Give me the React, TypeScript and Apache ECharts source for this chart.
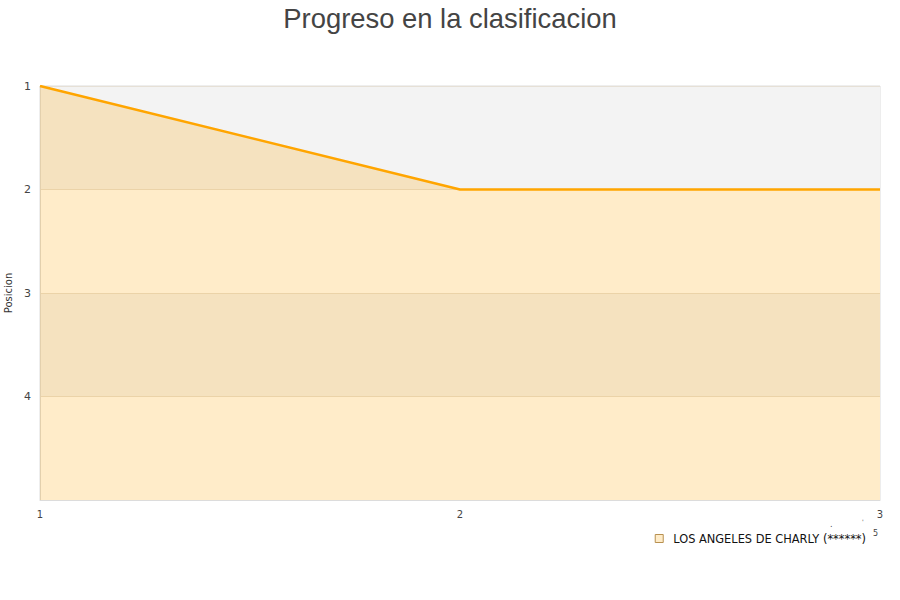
import React, { useEffect, useRef } from "react";
import * as echarts from "echarts";

const jornadas = [1, 2, 3];
const posiciones = [1, 2, 2];
const teamName = "LOS ANGELES DE CHARLY (******)";
const titleText = "Progreso en la clasificacion";
const yAxisName = "Posicion";

export default function App() {
  const ref = useRef<HTMLDivElement>(null);
  useEffect(() => {
    if (!ref.current) return;
    const chart = echarts.init(ref.current, undefined, { renderer: "svg" });
    chart.setOption({
      animation: false,
      title: {
        text: titleText,
        left: "center",
        top: 0,
        textStyle: {
          fontFamily: "Liberation Sans",
          fontSize: 27.4,
          fontWeight: "normal",
          color: "#444",
        },
      },
      grid: {
        left: 40,
        right: 20,
        top: 86,
        bottom: 100,
        show: true,
        borderColor: "#dcdcdc",
        borderWidth: 1,
        backgroundColor: "transparent",
        containLabel: false,
        outerBoundsMode: "none",
      },
      legend: {
        data: [teamName],
        right: 29,
        top: 528,
        icon: "rect",
        itemWidth: 8,
        itemHeight: 8,
        itemGap: 10,
        itemStyle: { color: "#ffecc9", borderColor: "#b89050", borderWidth: 1 },
        textStyle: { fontFamily: "DejaVu Sans", fontSize: 11.4, color: "#111", padding: [0, 0, 0, 5] },
      },
      xAxis: {
        type: "value",
        min: 1,
        max: 3,
        interval: 1,
        axisLine: { show: true, lineStyle: { color: "#dcdcdc" } },
        axisTick: { show: false },
        splitLine: { show: false },
        axisLabel: {
          fontFamily: "DejaVu Sans",
          fontSize: 10,
          color: "#444",
          margin: 9,
        },
      },
      yAxis: {
        type: "value",
        inverse: true,
        min: 1,
        max: 5,
        interval: 1,
        name: yAxisName,
        nameLocation: "middle",
        nameGap: 21,
        nameTextStyle: { fontFamily: "DejaVu Sans", fontSize: 10, color: "#333" },
        axisLine: { show: true, lineStyle: { color: "#dcdcdc" } },
        axisTick: { show: false },
        axisLabel: {
          fontFamily: "DejaVu Sans",
          fontSize: 11,
          color: "#444",
          margin: 9,
          formatter: (v: number) => (v === 5 ? "" : String(v)),
        },
        splitLine: { show: true, lineStyle: { color: "#e6e0d6", width: 1 } },
        splitArea: { show: true, areaStyle: { color: ["#f3f3f3", "#ffffff"] } },
      },
      series: [
        {
          name: teamName,
          type: "line",
          data: jornadas.map((j, i) => [j, posiciones[i]]),
          symbol: "none",
          lineStyle: { color: "#ffa500", width: 2.5 },
          itemStyle: { color: "#ffecc9", borderColor: "#b89050", borderWidth: 1 },
          areaStyle: { origin: "end", color: "rgba(255,165,0,0.21)", opacity: 1 },
        },
      ],
      graphic: [
        { type: "text", left: 873, top: 529, style: { text: "5", fontSize: 8, fill: "#444", fontFamily: "DejaVu Sans" } },
        { type: "text", left: 830, top: 520, style: { text: ".", fontSize: 8, fill: "#444", fontFamily: "DejaVu Sans" } },
        { type: "text", left: 862, top: 518, style: { text: "'", fontSize: 6, fill: "#444", fontFamily: "DejaVu Sans" } },
      ],
    });
    return () => chart.dispose();
  }, []);
  return <div ref={ref} style={{ width: 900, height: 600, position: "absolute", left: 0, top: 0 }} />;
}
